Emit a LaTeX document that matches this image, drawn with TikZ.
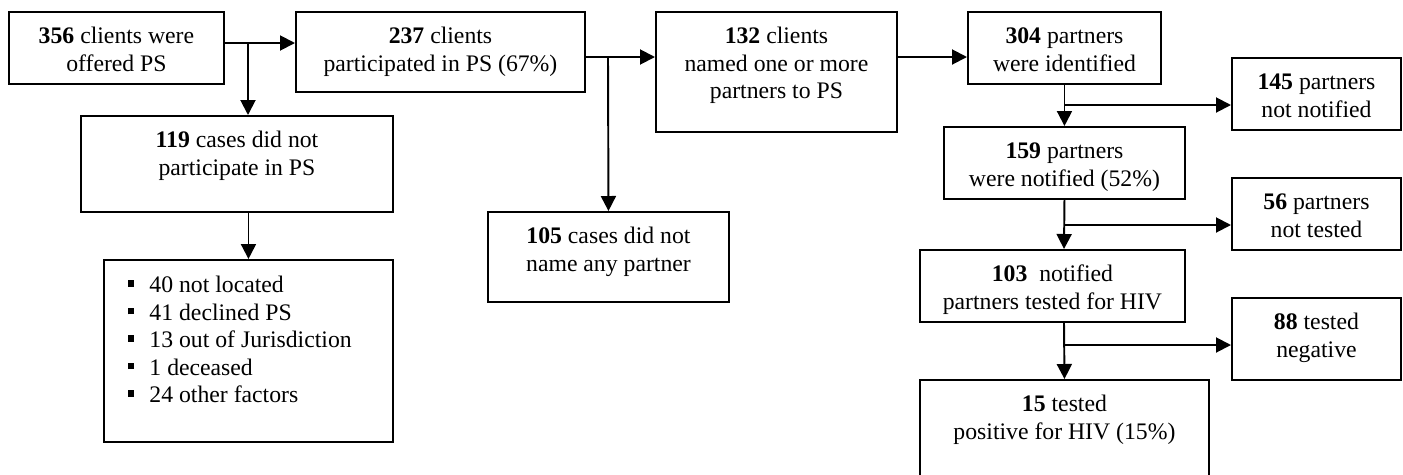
\documentclass[tikz,border=0pt]{standalone}
\usepackage{fontspec}
\setmainfont{Liberation Serif}
\usetikzlibrary{arrows.meta}
\newlength{\pxu}\setlength{\pxu}{0.02cm}
\newcommand{\flowbox}[3]{\parbox[t][#2\pxu][t]{#1\pxu}{\centering\rule{0pt}{32\pxu}#3}}
\newcommand{\sqbullet}{\hspace*{24\pxu}\rule[6\pxu]{6.5\pxu}{6.5\pxu}\hspace{15\pxu}}

\begin{document}
\begin{tikzpicture}[x=0.02cm,y=-0.02cm,
  box/.style={draw,line width=1.1pt,inner sep=0pt,anchor=north west},
  link/.style={line width=1.1pt},
  arr/.style={line width=1.1pt,-{Triangle[length=0.3cm,width=0.3cm]}},
  font=\fontsize{13.5}{15.6}\selectfont]
\useasboundingbox (0,0) rectangle (1403,474);
\clip (0,0) rectangle (1403,474);

%clients
\node[box] (offered) at (8,11) {\flowbox{215}{72}{\textbf{356} clients were\\ offered PS}};
\node[box] (particip) at (295,11) {\flowbox{289}{80}{\textbf{237} clients\\ participated in PS (67\%)}};
\node[box] (notpart) at (80,115) {\flowbox{312}{96}{\textbf{119} cases did not\\ participate in PS}};
\node[box] (reasons) at (103,259) {\parbox[t][182\pxu][t]{289\pxu}{\rule{0pt}{33\pxu}%
  \sqbullet 40 not located\\
  \sqbullet 41 declined PS\\
  \sqbullet 13 out of Jurisdiction\\
  \sqbullet 1 deceased\\
  \sqbullet 24 other factors}};
\node[box] (named) at (655,11) {\flowbox{241}{120}{\textbf{132} clients\\ named one or more\\ partners to PS}};
\node[box] (noname) at (487,211) {\flowbox{241}{90}{\textbf{105} cases did not\\ name any partner}};

%partners
\node[box] (ident) at (967,11) {\flowbox{193}{72}{\textbf{304} partners\\ were identified}};
\node[box] (notnotif) at (1231,57) {\flowbox{169}{72}{\textbf{145} partners\\ not notified}};
\node[box] (notif) at (943,126) {\flowbox{241}{72}{\textbf{159} partners\\ were notified (52\%)}};
\node[box] (nottest) at (1231,177) {\flowbox{169}{72}{\textbf{56} partners\\ not tested}};
\node[box] (tested) at (919,249) {\flowbox{265}{72}{\textbf{103}\ \ notified\\ partners tested for HIV}};
\node[box] (negative) at (1231,297) {\flowbox{169}{82}{\textbf{88} tested\\ negative}};
\node[box] (positive) at (919,379) {\flowbox{289}{110}{\textbf{15} tested\\ positive for HIV (15\%)}};

%branch points
\coordinate (j1) at (248,43);
\coordinate (j2) at (608,57);
\coordinate (j3) at (1064,105);
\coordinate (j4) at (1064,225);
\coordinate (j5) at (1064,345);

%arrows
\draw[link] (offered.east |- j1) -- (j1);
\draw[arr] (j1) -- (particip.west |- j1);
\draw[arr] (j1) -- (j1 |- notpart.north);
\draw[arr] (reasons.north |- notpart.south) -- (reasons.north);
\draw[link] (particip.east |- j2) -- (j2);
\draw[arr] (j2) -- (named.west |- j2);
\draw[arr] (j2) -- (noname.north);
\draw[arr] (named.east |- j2) -- (ident.west |- j2);
\draw[arr] (ident.south) -- (notif.north);
\draw[arr] (j3) -- (notnotif.west |- j3);
\draw[arr] (notif.south) -- (j4 |- tested.north);
\draw[arr] (j4) -- (nottest.west |- j4);
\draw[arr] (j5 |- tested.south) -- (positive.north);
\draw[arr] (j5) -- (negative.west |- j5);
\end{tikzpicture}
\end{document}
